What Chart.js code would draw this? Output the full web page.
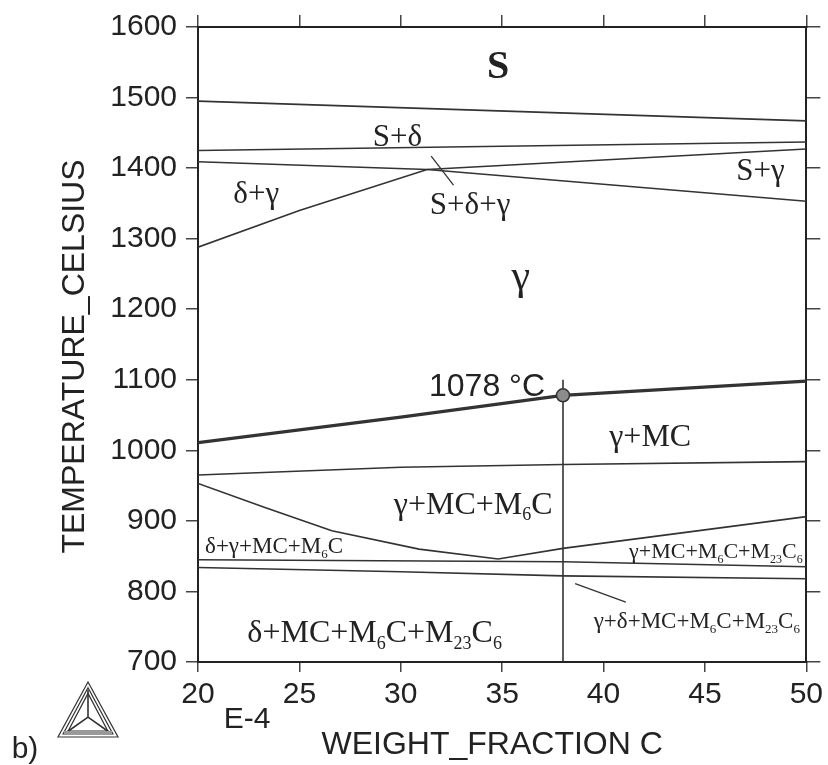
<!DOCTYPE html>
<html>
<head>
<meta charset="utf-8">
<script src="https://cdn.jsdelivr.net/npm/chart.js@4/dist/chart.umd.min.js"></script>
<style>
  html, body { margin: 0; padding: 0; background: #fff; }
  #wrap { width: 828px; height: 765px; position: relative; }
</style>
</head>
<body>
<div id="wrap"><canvas id="c" width="828" height="765"></canvas></div>
<script>
// Axis ranges and tick spacing
const xRange = [20, 50];          // weight fraction C, units of 1E-4
const yRange = [700, 1600];       // temperature, °C
const xStep = 5;
const yStep = 100;

// Phase boundaries as [weight fraction C (E-4), temperature °C]
const liquidus      = [[20, 1495], [50, 1467]];
const deltaSolidus  = [[20, 1425], [50, 1437]];
const solidus       = [[20, 1409], [31.3, 1398], [50, 1353]];
const gammaBoundary = [[20, 1288], [25, 1340], [31.3, 1398], [50, 1427]];
const mcSolvus      = [[20, 1011], [30, 1047], [38, 1078], [50, 1098]];
const m6cSolvus     = [[20, 965], [30, 976], [38, 980], [50, 984]];
const deltaSolvus   = [[20, 953], [23.3, 919], [26.6, 886], [30.9, 860], [34.8, 846], [38, 861], [50, 906]];
const m23c6Upper    = [[20, 845], [38, 842], [50, 835]];
const m23c6Lower    = [[20, 834], [30, 828], [38, 822], [50, 818]];
const alloyLine     = [[38, 700], [38, 1100]];
const pointerSDG    = [[31.5, 1417], [32.6, 1376]];
const pointerLow    = [[38.6, 811], [41.1, 785]];
const mcSolvusPoint = [[38, 1078]];

// Phase field names ({..} marks a subscript)
const phaseNames = [
  'S', 'S+δ', 'δ+γ', 'S+δ+γ', 'S+γ', 'γ',
  'γ+MC', 'γ+MC+M{6}C', 'δ+γ+MC+M{6}C', 'γ+MC+M{6}C+M{23}C{6}',
  'δ+MC+M{6}C+M{23}C{6}', 'γ+δ+MC+M{6}C+M{23}C{6}'
];
const pointLabel = '1078 °C';

// Where each phase name sits (data coordinates, text baseline) and how big it is
const phaseLabelStyle = [
  { at: [34.8, 1528], size: 40, weight: 'bold' },
  { at: [29.84, 1431], size: 31 },
  { at: [22.87, 1350], size: 31 },
  { at: [33.42, 1335], size: 31 },
  { at: [47.74, 1383], size: 31 },
  { at: [35.92, 1228], size: 42 },
  { at: [42.3, 1006], size: 32 },
  { at: [33.57, 910], size: 32 },
  { at: [23.75, 854], size: 23 },
  { at: [45.54, 847], size: 22 },
  { at: [28.71, 728], size: 32 },
  { at: [44.6, 748], size: 23 }
];

const toXY = pts => pts.map(p => ({ x: p[0], y: p[1] }));
const INK = '#222';
const LINE = '#333';

function boundary(label, pts, width) {
  return {
    label, data: toXY(pts), showLine: true, fill: false, tension: 0,
    borderColor: LINE, borderWidth: width || 1.6,
    pointRadius: 0, pointHoverRadius: 0
  };
}

// Text with subscript runs, anchored on its baseline
function drawRich(ctx, text, x, y, size, family, weight, align) {
  const runs = [];
  const re = /\{([^}]*)\}/g;
  let last = 0, m;
  while ((m = re.exec(text))) {
    if (m.index > last) runs.push({ t: text.slice(last, m.index), sub: false });
    runs.push({ t: m[1], sub: true });
    last = re.lastIndex;
  }
  if (last < text.length) runs.push({ t: text.slice(last), sub: false });
  const fontOf = r => `${weight || 'normal'} ${r.sub ? Math.round(size * 0.55) : size}px ${family}`;
  let total = 0;
  runs.forEach(r => { ctx.font = fontOf(r); r.w = ctx.measureText(r.t).width; total += r.w; });
  let cx = align === 'center' ? x - total / 2 : (align === 'right' ? x - total : x);
  ctx.textAlign = 'left';
  ctx.textBaseline = 'alphabetic';
  runs.forEach(r => {
    ctx.font = fontOf(r);
    ctx.fillText(r.t, cx, y + (r.sub ? size * 0.2 : 0));
    cx += r.w;
  });
}

// Phase field names and the marked temperature
const phaseLabels = {
  id: 'phaseLabels',
  afterDatasetsDraw(chart) {
    const { ctx, scales } = chart;
    ctx.save();
    ctx.fillStyle = INK;
    phaseNames.forEach((name, i) => {
      const s = phaseLabelStyle[i];
      const px = scales.x.getPixelForValue(s.at[0]);
      const py = scales.y.getPixelForValue(s.at[1]);
      drawRich(ctx, name, px, py, s.size, '"Liberation Serif", "Times New Roman", serif', s.weight, 'center');
    });
    const p = mcSolvusPoint[0];
    const lx = scales.x.getPixelForValue(p[0]) - 18;
    const ly = scales.y.getPixelForValue(p[1]) + 1;
    ctx.font = '32px "Liberation Sans", Arial, sans-serif';
    ctx.textAlign = 'right';
    ctx.textBaseline = 'alphabetic';
    ctx.fillText(pointLabel, lx, ly);
    ctx.restore();
  }
};

// Axis titles, exponent note, panel letter and program logo
const frameText = {
  id: 'frameText',
  afterDraw(chart) {
    const { ctx, chartArea: a } = chart;
    ctx.save();
    ctx.fillStyle = INK;
    ctx.font = '32px "Liberation Sans", Arial, sans-serif';
    ctx.textAlign = 'center';
    ctx.textBaseline = 'middle';
    ctx.save();
    ctx.translate(a.left - 123, (a.top + a.bottom) / 2 + 12);
    ctx.rotate(-Math.PI / 2);
    ctx.fillText('TEMPERATURE_CELSIUS', 0, 0);
    ctx.restore();
    ctx.fillText('WEIGHT_FRACTION C', (a.left + a.right) / 2 - 10, a.bottom + 83);
    ctx.font = '30px "Liberation Sans", Arial, sans-serif';
    ctx.fillText('E-4', a.left + 49, a.bottom + 58);
    ctx.fillText('b)', 25, a.bottom + 88);

    // triangle logo
    const ax = 88, ay = a.bottom + 20, half = 30, h = 55;
    ctx.strokeStyle = '#333';
    ctx.lineWidth = 1.2;
    [0, 3, 6].forEach(d => {
      ctx.beginPath();
      ctx.moveTo(ax, ay + d * 1.9);
      ctx.lineTo(ax - half + d * 1.7, ay + h - d);
      ctx.lineTo(ax + half - d * 1.7, ay + h - d);
      ctx.closePath();
      ctx.stroke();
    });
    const cxl = ax, cyl = ay + h * 0.64;
    ctx.lineWidth = 1.6;
    ctx.beginPath();
    ctx.moveTo(cxl, cyl); ctx.lineTo(ax, ay + 8);
    ctx.moveTo(cxl, cyl); ctx.lineTo(ax - half + 9, ay + h - 5);
    ctx.moveTo(cxl, cyl); ctx.lineTo(ax + half - 9, ay + h - 5);
    ctx.stroke();
    ctx.fillStyle = '#999';
    ctx.fillRect(ax - half + 6, ay + h - 6, 2 * half - 12, 4);
    ctx.restore();
  }
};

const tickFont = { family: '"Liberation Sans", Arial, sans-serif', size: 30 };
const gridBase = { drawOnChartArea: false, color: '#444', lineWidth: 1.5 };
const borderBase = { display: true, color: INK, width: 2 };
const plainNumber = v => String(v);

new Chart(document.getElementById('c'), {
  type: 'scatter',
  data: {
    datasets: [
      Object.assign(boundary('1078 °C point', mcSolvusPoint), {
        showLine: false, pointRadius: 6.5, pointBackgroundColor: '#8c8c8c',
        pointBorderColor: '#333', pointBorderWidth: 1.5, order: -1
      }),
      boundary('liquidus', liquidus),
      boundary('S+δ lower', deltaSolidus),
      boundary('solidus', solidus),
      boundary('γ boundary', gammaBoundary),
      boundary('MC solvus', mcSolvus, 3.2),
      boundary('M6C solvus', m6cSolvus),
      boundary('δ solvus', deltaSolvus),
      boundary('M23C6 upper', m23c6Upper),
      boundary('M23C6 lower', m23c6Lower),
      boundary('alloy', alloyLine),
      boundary('pointer S+δ+γ', pointerSDG, 1.3),
      boundary('pointer γ+δ', pointerLow, 1.3)
    ]
  },
  options: {
    responsive: false,
    animation: false,
    events: [],
    layout: { padding: 0 },
    plugins: { legend: { display: false }, tooltip: { enabled: false }, title: { display: false } },
    scales: {
      x: {
        type: 'linear', position: 'bottom', min: xRange[0], max: xRange[1],
        ticks: { stepSize: xStep, font: tickFont, color: INK, padding: 5, maxRotation: 0, autoSkip: false, callback: plainNumber },
        grid: Object.assign({ tickLength: 10 }, gridBase),
        border: borderBase,
        afterFit(s) { s.height = 103; }
      },
      xTop: {
        type: 'linear', position: 'top', min: xRange[0], max: xRange[1],
        ticks: { stepSize: xStep, display: false },
        grid: Object.assign({ tickLength: 12 }, gridBase),
        border: borderBase,
        afterFit(s) { s.height = 24; }
      },
      y: {
        type: 'linear', position: 'left', min: yRange[0], max: yRange[1],
        ticks: { stepSize: yStep, font: tickFont, color: INK, padding: 9, callback: plainNumber },
        grid: Object.assign({ tickLength: 12 }, gridBase),
        border: borderBase,
        afterFit(s) { s.width = 198; }
      },
      yRight: {
        type: 'linear', position: 'right', min: yRange[0], max: yRange[1],
        ticks: { stepSize: yStep, display: false },
        grid: Object.assign({ tickLength: 14 }, gridBase),
        border: borderBase,
        afterFit(s) { s.width = 18; }
      }
    }
  },
  plugins: [phaseLabels, frameText]
});
</script>
</body>
</html>
